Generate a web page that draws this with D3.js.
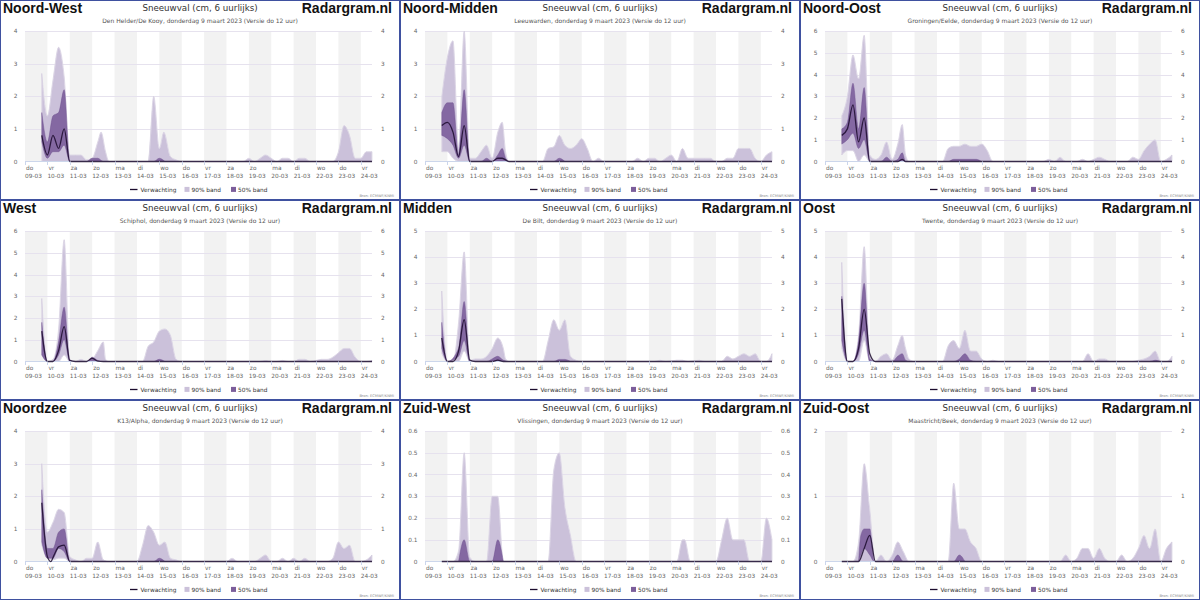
<!DOCTYPE html>
<html><head><meta charset="utf-8">
<script src="https://cdn.jsdelivr.net/npm/d3@7"></script>
<style>body{margin:0;background:#fff}svg{display:block}</style>
</head><body><svg id="c" width="1200" height="600"></svg>
<script>
const regions = ["Noord-West","Noord-Midden","Noord-Oost","West","Midden","Oost","Noordzee","Zuid-West","Zuid-Oost"];
const stations = ["Den Helder/De Kooy","Leeuwarden","Groningen/Eelde","Schiphol","De Bilt","Twente","K13/Alpha","Vlissingen","Maastricht/Beek"];
const yMax = [4,4,6,6,5,5,4,0.6,2];
const yStep = [1,1,1,1,1,1,1,0.1,1];
const dayNames = ["do","vr","za","zo","ma","di","wo","do","vr","za","zo","ma","di","wo","do","vr"];
const dayDates = ["09-03","10-03","11-03","12-03","13-03","14-03","15-03","16-03","17-03","18-03","19-03","20-03","21-03","22-03","23-03","24-03"];
const chartTitle = "Sneeuwval (cm, 6 uurlijks)";
const subtitleTail = ", donderdag 9 maart 2023 (Versie do 12 uur)";
const legendLabels = ["Verwachting","90% band","50% band"];

// [day since 09-03 00:00, low, high]
const band90 = [
 [[0.75,0,2.7],[1,0,1.4],[1.25,0,2.5],[1.5,0,3.5],[1.75,0,2.6],[2,0,0.2],[2.25,0,0.2],[2.5,0,0.2],[2.75,0,0.05],[3,0,0.1],[3.25,0,0.6],[3.4,0,0.9],[3.6,0,0.3],[3.75,0,0],[5.5,0,0],[5.75,0,2.0],[6,0,0.4],[6.2,0,0.9],[6.5,0,0.15],[6.75,0,0.05],[7,0,0],[9.75,0,0],[10,0,0.1],[10.25,0,0],[10.5,0,0.1],[10.75,0,0.2],[11,0,0.1],[11.25,0,0],[11.5,0,0.1],[11.75,0,0.1],[12,0,0],[12.25,0,0.1],[12.5,0,0.1],[12.75,0,0],[13.75,0,0],[14,0,0.3],[14.25,0,1.1],[14.5,0,0.8],[14.75,0,0.1],[15,0,0.1],[15.25,0,0.3],[15.5,0,0.3]],
 [[0.75,0.3,2.0],[1,0.3,3.2],[1.25,0.1,3.7],[1.5,0,0.4],[1.75,0,4.0],[2,0,0.1],[2.25,0,0.1],[2.5,0,0.3],[2.75,0,0.5],[3,0,0.1],[3.25,0,0.9],[3.45,0,1.2],[3.6,0,0.3],[3.75,0,0],[5.25,0,0],[5.5,0,0.4],[5.75,0,0.45],[6,0,0.8],[6.25,0,0.5],[6.5,0,0.4],[6.75,0,0.5],[7,0,0.7],[7.25,0,0.4],[7.5,0,0],[7.75,0,0.1],[8,0,0],[9.25,0,0],[9.5,0,0.1],[9.75,0,0],[10,0,0.1],[10.25,0,0.1],[10.5,0,0],[10.75,0,0.1],[11,0,0.2],[11.25,0,0],[11.5,0,0.4],[11.75,0,0.1],[12,0,0.1],[12.5,0,0.1],[12.75,0,0.1],[13,0,0],[13.25,0,0],[13.5,0,0.1],[13.75,0,0.1],[14,0,0.4],[14.25,0,0.4],[14.5,0,0.4],[14.75,0,0.1],[15,0,0],[15.25,0,0.2],[15.5,0,0.3]],
 [[0.75,0.3,2.1],[1,0.5,3.0],[1.25,0.5,4.9],[1.5,0,3.8],[1.75,0.3,5.8],[2,0,0.3],[2.25,0,0.1],[2.5,0,0.3],[2.75,0,0.9],[3,0,0.1],[3.25,0,0.8],[3.45,0,1.7],[3.6,0,0.3],[3.75,0,0],[5.25,0,0],[5.5,0,0.6],[5.75,0,0.7],[6,0,0.7],[6.25,0,0.8],[6.5,0,0.7],[6.75,0,0.7],[7,0,0.8],[7.25,0,0.5],[7.5,0,0],[9.75,0,0],[10,0,0.1],[10.25,0,0],[10.5,0,0.2],[10.75,0,0],[11.25,0,0],[11.5,0,0.1],[11.75,0,0],[12,0,0.1],[12.25,0,0.2],[12.5,0,0.1],[12.75,0,0],[13.5,0,0],[13.75,0,0.2],[14,0,0.1],[14.25,0,0.5],[14.5,0,0.8],[14.75,0,1.0],[15,0,0],[15.25,0,0.1],[15.5,0,0.3]],
 [[0.75,0.3,2.9],[1,0,0],[1.25,0,0.1],[1.5,0,1.5],[1.75,0.3,5.6],[2,0,0.1],[2.25,0,0],[2.5,0,0.1],[2.75,0,0],[3,0,0.1],[3.25,0,0.5],[3.5,0,0.9],[3.6,0,0.1],[3.75,0,0],[5.25,0,0],[5.5,0,0.7],[5.75,0,0.9],[6,0,1.4],[6.25,0,1.5],[6.5,0,1.2],[6.75,0,0.1],[7,0,0],[10.5,0,0],[10.75,0,0.05],[11,0,0],[11.25,0,0],[11.5,0,0.05],[11.75,0,0],[12,0,0],[12.25,0,0.1],[12.5,0,0.1],[12.75,0,0],[13,0,0.05],[13.25,0,0.1],[13.5,0,0.1],[13.75,0,0.2],[14,0,0.4],[14.25,0,0.6],[14.5,0,0.6],[14.75,0,0.2],[15,0,0],[15.25,0,0],[15.5,0,0.05]],
 [[0.75,0.3,2.7],[1,0,0],[1.25,0,0],[1.5,0,1.5],[1.75,0.4,4.2],[2,0,0.05],[2.25,0,0.1],[2.5,0,0.1],[2.75,0,0.2],[3,0,0.5],[3.25,0,0.9],[3.5,0,0.5],[3.6,0,0.1],[3.75,0,0],[5.25,0,0],[5.5,0,0.8],[5.75,0,1.6],[6,0,1.2],[6.25,0,1.6],[6.5,0,0.2],[6.75,0,0.05],[7,0,0],[10.25,0,0],[10.5,0,0.05],[10.75,0,0],[11.25,0,0.05],[11.5,0,0.05],[11.75,0,0],[12.25,0,0.05],[12.5,0,0],[13.25,0,0],[13.5,0,0.2],[13.75,0,0.1],[14,0,0.2],[14.25,0,0.3],[14.5,0,0.2],[14.75,0,0.3],[15,0,0],[15.25,0,0],[15.5,0,0.3]],
 [[0.75,0.5,3.8],[1,0,0],[1.25,0,0],[1.5,0,1.0],[1.75,0.8,4.4],[2,0,0.2],[2.25,0,0],[2.5,0,0.2],[2.75,0,0.3],[3,0,0.05],[3.25,0,0.6],[3.45,0,1.0],[3.6,0,0.5],[3.75,0,0.1],[4,0,0],[5.25,0,0],[5.5,0,0.6],[5.75,0,0.8],[6,0,0.5],[6.25,0,1.2],[6.5,0,0.4],[6.75,0,0.4],[7,0,0.1],[7.25,0,0],[7.5,0,0.05],[7.75,0,0],[11.5,0,0],[11.75,0,0.3],[12,0,0],[12.25,0,0.1],[12.5,0,0.1],[12.75,0,0],[13.75,0,0],[14,0,0.05],[14.25,0,0.1],[14.5,0,0.2],[14.75,0,0.4],[15,0,0],[15.25,0,0],[15.5,0,0.2]],
 [[0.75,0.5,3.0],[1,0.1,0.9],[1.25,0.05,1.2],[1.5,0.1,1.6],[1.75,0.1,1.5],[2,0,0.15],[2.25,0,0.05],[2.5,0,0],[2.75,0,0.1],[3,0,0.1],[3.25,0,0.6],[3.5,0,0.05],[3.75,0,0],[5,0,0],[5.25,0,0.5],[5.5,0,1.1],[5.75,0,0.9],[6,0,0.5],[6.25,0,0.6],[6.5,0,0.1],[6.75,0,0.05],[7,0,0],[9,0,0],[9.25,0,0.1],[9.5,0,0],[10.25,0,0],[10.5,0,0.1],[10.75,0,0.2],[11,0,0],[11.25,0,0],[11.5,0,0.1],[11.75,0,0],[12,0,0.1],[12.25,0,0],[12.5,0,0.1],[12.75,0,0],[13.5,0,0],[13.75,0,0.1],[14,0,0.6],[14.25,0,0.4],[14.5,0,0.5],[14.75,0,0],[15,0,0],[15.25,0,0.05],[15.5,0,0.2]],
 [[0.75,0,0],[1.25,0,0],[1.5,0,0.05],[1.75,0,0.5],[2,0,0.02],[2.25,0,0],[2.75,0,0],[3,0,0.3],[3.25,0,0.3],[3.5,0,0],[5.5,0,0],[5.75,0,0.42],[6,0,0.5],[6.25,0,0.25],[6.5,0,0.12],[6.75,0,0],[11.25,0,0],[11.5,0,0.1],[11.6,0,0.1],[11.85,0,0],[13,0,0],[13.25,0,0.1],[13.5,0,0.2],[13.75,0,0.1],[14,0,0.1],[14.25,0,0.1],[14.5,0,0],[15,0,0],[15.25,0,0.2],[15.5,0,0.1]],
 [[0.75,0,0],[1.25,0,0],[1.5,0,0.3],[1.75,0,1.5],[2,0,0.8],[2.25,0,0],[2.5,0,0.1],[2.75,0,0],[3,0,0.1],[3.25,0,0.3],[3.5,0,0.15],[3.75,0,0],[5.5,0,0],[5.75,0,1.2],[6,0,0.5],[6.25,0,0.5],[6.5,0,0.3],[6.75,0,0.2],[7,0,0],[10.5,0,0],[10.75,0,0.1],[11,0,0],[11.25,0,0.05],[11.5,0,0.2],[11.75,0,0.2],[12,0,0.05],[12.25,0,0.2],[12.5,0,0.05],[12.75,0,0],[13,0,0],[13.25,0,0.1],[13.5,0,0],[13.75,0,0.05],[14,0,0.2],[14.25,0,0.4],[14.5,0,0.2],[14.75,0,0.5],[15,0,0],[15.25,0,0.2],[15.5,0,0.3]]
];
const band50 = [
 [[0.75,0.6,1.5],[1,0.1,0.6],[1.25,0.3,1.4],[1.5,0.3,1.5],[1.75,0.5,2.2],[2,0,0],[2.75,0,0],[3,0,0.1],[3.25,0,0.1],[3.5,0,0],[5.75,0,0],[6,0,0.1],[6.25,0,0]],
 [[0.75,0.8,1.5],[1,0.7,1.8],[1.25,0.5,1.8],[1.5,0.1,0.2],[1.75,0.5,2.2],[2,0,0],[2.5,0,0],[2.75,0,0.1],[3,0,0],[3.25,0,0.2],[3.45,0,0.4],[3.6,0,0.1],[3.75,0,0],[5.75,0,0],[6,0,0.1],[6.25,0,0]],
 [[0.75,0.8,1.5],[1,1.0,1.8],[1.25,1.3,3.6],[1.5,0.6,1.5],[1.75,1.0,3.4],[2,0,0],[2.5,0,0],[2.75,0,0.2],[3,0,0],[3.25,0,0.1],[3.45,0,0.4],[3.6,0,0],[5.5,0,0],[5.75,0,0.1],[6.75,0,0.1],[7,0,0]],
 [[0.75,0.3,1.8],[1,0,0],[1.25,0,0],[1.5,0.3,0.9],[1.75,1.0,2.5],[2,0,0.05],[2.25,0,0],[2.75,0,0],[3,0,0.2],[3.25,0,0.05],[3.5,0,0],[5.75,0,0],[6,0,0.1],[6.25,0,0]],
 [[0.75,0.5,1.5],[1,0,0],[1.5,0.2,0.5],[1.75,0.8,2.3],[2,0,0],[2.75,0,0],[3,0,0.1],[3.25,0,0.2],[3.5,0,0.05],[3.75,0,0],[5.75,0,0],[6,0,0.08],[6.25,0,0.08],[6.5,0,0]],
 [[0.75,0.8,2.5],[1,0,0],[1.25,0,0],[1.5,0.3,0.8],[1.75,1.2,3.0],[2,0,0.1],[2.25,0,0],[3,0,0],[3.25,0,0.2],[3.45,0,0.3],[3.6,0,0.05],[3.75,0,0],[5.75,0,0],[6,0,0.1],[6.25,0,0.3],[6.5,0,0.05],[6.75,0,0],[14.5,0,0],[14.75,0,0.05],[15,0,0]],
 [[0.75,0.6,2.2],[1,0.1,0.4],[1.25,0.1,0.4],[1.5,0.4,0.9],[1.75,0.3,1.0],[2,0,0],[5.75,0,0],[6,0,0.1],[6.25,0,0]],
 [[1.5,0,0],[1.75,0,0.1],[2,0,0],[3,0,0],[3.25,0,0.1],[3.5,0,0]],
 [[1.5,0,0],[1.6,0.1,0.4],[1.75,0.2,0.5],[2,0.1,0.5],[2.2,0,0],[3,0,0],[3.25,0,0.1],[3.5,0,0],[5.75,0,0],[6,0,0.1],[6.25,0,0]]
];
// [day, value]
const median = [
 [[0.75,0.8],[1,0.2],[1.25,0.8],[1.5,0.4],[1.75,1.0],[2,0],[15.5,0]],
 [[0.75,1.1],[1,1.2],[1.25,0.9],[1.5,0.15],[1.75,1.1],[2,0],[2.75,0],[3,0],[3.25,0.1],[3.45,0.1],[3.75,0],[15.5,0]],
 [[0.75,1.2],[1,1.5],[1.25,2.6],[1.5,0.9],[1.75,2.0],[2,0],[3.25,0],[3.45,0.1],[3.6,0],[15.5,0]],
 [[0.75,1.4],[1,0],[1.25,0],[1.5,0.5],[1.75,1.6],[2,0.05],[2.25,0],[2.75,0],[3,0.15],[3.25,0.02],[3.5,0],[15.5,0]],
 [[0.75,0.9],[1,0],[1.25,0],[1.5,0.4],[1.75,1.6],[2,0.05],[2.25,0],[3,0],[3.25,0.05],[3.5,0],[15.5,0]],
 [[0.75,2.4],[1,0],[1.25,0],[1.5,0.5],[1.75,2.0],[2,0.3],[2.25,0],[15.5,0]],
 [[0.75,1.8],[1,0.15],[1.15,0],[1.3,0.2],[1.5,0.45],[1.75,0.5],[2,0],[15.5,0]],
 [[0.75,0],[15.5,0]],
 [[0.75,0],[1.5,0],[1.75,0.2],[2,0.4],[2.25,0],[15.5,0]]
];

const svg = d3.select("#c");
svg.append("rect").attr("width",1200).attr("height",600).attr("fill","#fff");
const C90 = "#cbc1da", C50 = "#7c5e9b", CLINE = "#1c0c2e";
const FONT = "DejaVu Sans, Verdana, sans-serif";
const BOLD = "Liberation Sans, Arial, sans-serif";

regions.forEach((name, i) => {
  const g = svg.append("g").attr("transform", `translate(${(i%3)*400},${Math.floor(i/3)*200})`);
  const x = d3.scaleLinear().domain([0, 15.5]).range([25, 372]);
  const y = d3.scaleLinear().domain([0, yMax[i]]).range([161.5, 31]);

  dayNames.forEach((dn, d) => {
    if (d % 2 === 0) g.append("rect").attr("x", x(d)).attr("y", 31)
      .attr("width", x(Math.min(d+1, 15.5)) - x(d)).attr("height", 161.5-31).attr("fill", "#f2f2f2");
  });
  const ticks = d3.range(0, yMax[i] + yStep[i]/2, yStep[i]);
  const fmt = yStep[i] < 1 ? d3.format(".1f") : d3.format("d");
  ticks.forEach(t => {
    if (t > 0) g.append("line").attr("x1", 25).attr("x2", 372).attr("y1", Math.round(y(t))+0.5).attr("y2", Math.round(y(t))+0.5)
      .attr("stroke", "#e6e2ee").attr("stroke-width", 1);
    const lab = t === 0 ? "0" : fmt(t);
    g.append("text").attr("x", 17.5).attr("y", y(t)).attr("dy", "0.35em").attr("text-anchor", "end")
      .attr("font-family", FONT).attr("font-size", 5.8).attr("fill", "#666").text(lab);
    g.append("text").attr("x", 381).attr("y", y(t)).attr("dy", "0.35em").attr("text-anchor", "start")
      .attr("font-family", FONT).attr("font-size", 5.8).attr("fill", "#666").text(lab);
  });

  const area = d3.area().curve(d3.curveMonotoneX).x(p => x(p[0])).y0(p => y(p[1])).y1(p => y(p[2]));
  g.append("path").datum(band90[i]).attr("d", area).attr("fill", C90)
    .attr("stroke", "#fff").attr("stroke-width", 0.8).attr("stroke-opacity", 0.9);
  g.append("path").datum(band90[i]).attr("d", area).attr("fill", "none")
    .attr("stroke", "#b3a6c8").attr("stroke-width", 0.4);
  g.append("path").datum(band50[i]).attr("d", area).attr("fill", C50).attr("fill-opacity", 0.9)
    .attr("stroke", "#6a4c8a").attr("stroke-width", 0.4);

  g.append("line").attr("x1", 25).attr("x2", 372).attr("y1", 161.5).attr("y2", 161.5).attr("stroke", "#ccd6eb");
  const line = d3.line().curve(d3.curveMonotoneX).x(p => x(p[0])).y(p => y(p[1]));
  g.append("path").datum(median[i]).attr("d", line).attr("fill", "none")
    .attr("stroke", CLINE).attr("stroke-width", 1.3).attr("stroke-opacity", 0.85);

  dayNames.forEach((dn, d) => {
    g.append("line").attr("x1", Math.round(x(d))+0.5).attr("x2", Math.round(x(d))+0.5).attr("y1", 161.5).attr("y2", 165)
      .attr("stroke", "#ccd6eb");
    g.append("text").attr("x", x(d)+1).attr("y", 170).attr("font-family", FONT).attr("font-size", 5.8)
      .attr("fill", "#666").text(dn);
    g.append("text").attr("x", x(d)).attr("y", 177.5).attr("font-family", FONT).attr("font-size", 5.8)
      .attr("fill", "#666").text(dayDates[d]);
  });

  g.append("text").attr("x", 3).attr("y", 13).attr("font-family", BOLD).attr("font-weight", "bold")
    .attr("font-size", 14).attr("fill", "#111").text(name);
  g.append("text").attr("x", 392).attr("y", 13).attr("text-anchor", "end").attr("font-family", BOLD).attr("font-weight", "bold")
    .attr("font-size", 14).attr("fill", "#111").text("Radargram.nl");
  g.append("text").attr("x", 200).attr("y", 11).attr("text-anchor", "middle").attr("font-family", FONT)
    .attr("font-size", 8.7).attr("fill", "#333").text(chartTitle);
  g.append("text").attr("x", 200).attr("y", 22.5).attr("text-anchor", "middle").attr("font-family", FONT)
    .attr("font-size", 6).attr("fill", "#555").text(stations[i] + subtitleTail);

  const ly = 189.5;
  g.append("line").attr("x1", 130).attr("x2", 137.5).attr("y1", ly).attr("y2", ly).attr("stroke", CLINE).attr("stroke-width", 1.3);
  g.append("text").attr("x", 140.5).attr("y", ly).attr("dy", "0.35em").attr("font-family", FONT).attr("font-size", 5.8).attr("fill", "#333").text(legendLabels[0]);
  g.append("rect").attr("x", 184.5).attr("y", ly-2.6).attr("width", 5).attr("height", 5).attr("fill", C90);
  g.append("text").attr("x", 191.5).attr("y", ly).attr("dy", "0.35em").attr("font-family", FONT).attr("font-size", 5.8).attr("fill", "#333").text(legendLabels[1]);
  g.append("rect").attr("x", 231).attr("y", ly-2.6).attr("width", 5).attr("height", 5).attr("fill", C50);
  g.append("text").attr("x", 238).attr("y", ly).attr("dy", "0.35em").attr("font-family", FONT).attr("font-size", 5.8).attr("fill", "#333").text(legendLabels[2]);
  g.append("text").attr("x", 394).attr("y", 196.5).attr("text-anchor", "end").attr("font-family", FONT).attr("font-size", 3.6).attr("fill", "#888").text("Bron: ECMWF/KNMI");

  g.append("rect").attr("x", 0.5).attr("y", 0.5).attr("width", 399).attr("height", 199).attr("fill", "none").attr("stroke", "#3f51a0").attr("stroke-width", 1);
});
</script></body></html>
